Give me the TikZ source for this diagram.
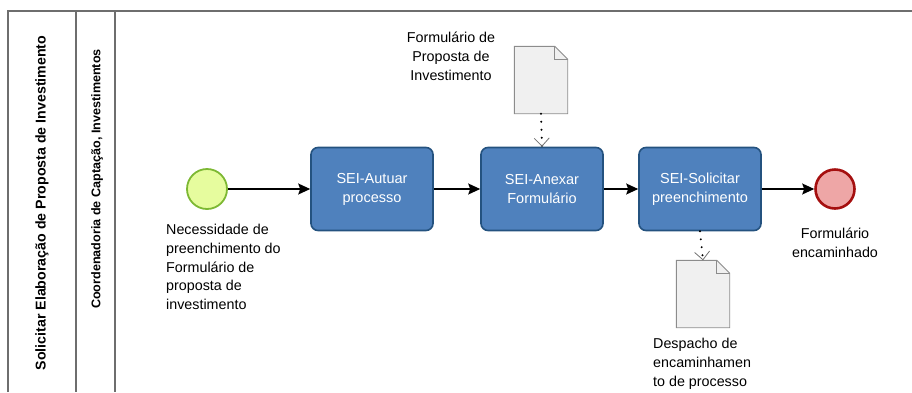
\documentclass[tikz,border=0pt]{standalone}
\usepackage{fontspec}
\setmainfont{Liberation Sans}
\usetikzlibrary{positioning,calc,arrows.meta}

\definecolor{taskfill}{HTML}{4F81BD}
\definecolor{taskline}{HTML}{24527F}
\definecolor{startfill}{HTML}{E6FC9E}
\definecolor{startline}{HTML}{7DB833}
\definecolor{endfill}{HTML}{EEA6A6}
\definecolor{endline}{HTML}{A50F0F}
\definecolor{docfill}{HTML}{F0F0F0}
\definecolor{docline}{HTML}{8C8C8C}
\definecolor{laneline}{HTML}{6E6E6E}

\tikzset{
  task/.style={rectangle, rounded corners=7pt, draw=taskline, line width=1.6pt,
    fill=taskfill, text=white, minimum width=122pt, minimum height=83pt,
    align=center, font=\fontsize{14.5}{19}\selectfont},
  startev/.style={circle, draw=startline, line width=1.8pt, fill=startfill,
    minimum size=40pt, inner sep=0pt},
  endev/.style={circle, draw=endline, line width=2.6pt, fill=endfill,
    minimum size=39pt, inner sep=0pt},
  docbox/.style={rectangle, minimum width=53pt, minimum height=67pt, inner sep=0pt},
  lbl/.style={font=\fontsize{14.3}{18.8}\selectfont, inner sep=0pt},
  flow/.style={-{Stealth[length=12pt,width=11pt,inset=2pt]}, line width=1.2pt},
  assoc/.style={line width=2.2pt, line cap=round, dash pattern=on 0pt off 8pt,
    -{Straight Barb[length=8pt,width=15pt,line width=0.8pt,color=docline!80!black]}},
  lane/.style={draw=laneline, line width=1.2pt}
}

\begin{document}
\begin{tikzpicture}[x=1pt, y=-1pt]
    \useasboundingbox (0,0) rectangle (912,392);

    % Pool and lanes
    \draw[lane] (8,392) -- (8,11) -- (912,11);
    \draw[lane] (76,11) -- (76,392);
    \draw[lane] (115,11) -- (115,392);
    \node[rotate=90, font=\bfseries\fontsize{14.2}{16}\selectfont] (pool) at (42,203)
        {Solicitar Elaboração de Proposta de Investimento};
    \node[rotate=90, font=\bfseries\fontsize{12.6}{15}\selectfont] (lanecc) at (97,179)
        {Coordenadoria de Captação, Investimentos};

    % Events and tasks
    \node[startev] (start) at (207,189) {};
    \node[task] (autuar) at (372,189) {SEI-Autuar\\processo};
    \node[task] (anexar) at (542,189) {SEI-Anexar\\Formulário};
    \node[task] (solicitar) at (700,189) {SEI-Solicitar\\preenchimento};
    \node[endev] (fim) at (835,189) {};

    \node[lbl, align=left, anchor=north west] (startlbl) at (166,224)
        {Necessidade de\\preenchimento do\\Formulário de\\proposta de\\investimento};
    \node[lbl, align=center, below=18pt of fim] (fimlbl)
        {Formulário\\encaminhado};

    % Data objects
    \node[docbox] (form) at (541,80) {};
    \node[docbox] (despacho) at (703,294) {};
    \foreach \d in {form,despacho} {
      \draw[draw=docline, fill=docfill, line width=0.9pt]
        (\d.north west) -- ([xshift=-13pt]\d.north east)
        -- ([yshift=-13pt]\d.north east) -- (\d.south east)
        -- (\d.south west) -- cycle;
      \draw[draw=docline, line width=0.9pt]
        ([xshift=-13pt]\d.north east) -- ([xshift=-13pt,yshift=-13pt]\d.north east)
        -- ([yshift=-13pt]\d.north east);
    }
    \node[lbl, align=center, anchor=north] (formlbl) at (451,32)
        {Formulário de\\Proposta de\\Investimento};
    \node[lbl, align=left, anchor=north west] (despacholbl) at (653,338)
        {Despacho de\\encaminhamen\\to de processo};

    % Sequence flows
    \draw[flow] (start) -- (autuar);
    \draw[flow] (autuar) -- (anexar);
    \draw[flow] (anexar) -- (solicitar);
    \draw[flow] (solicitar) -- (fim);

    % Associations
    \draw[assoc] (form.south) -- (anexar.north);
    \draw[assoc] (solicitar.south) -- (despacho.north);
\end{tikzpicture}
\end{document}
